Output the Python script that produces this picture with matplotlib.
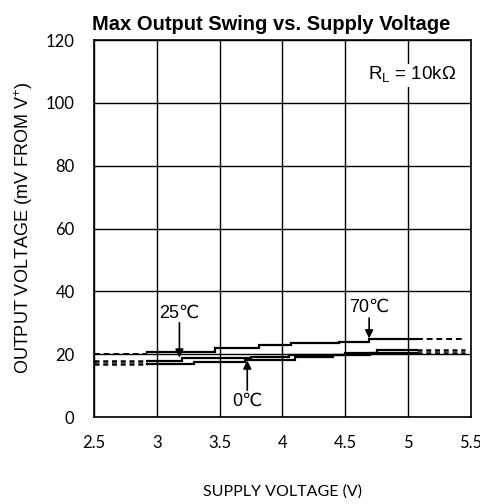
import matplotlib
matplotlib.use("Agg")
import matplotlib.pyplot as plt

# supply voltage breakpoints (V) and output swing (mV from V+) for each step
v_70 = [2.92, 3.46, 3.81, 4.07, 4.45, 4.69, 5.07]
mv_70 = [20.6, 22.0, 22.9, 23.4, 24.0, 24.7]
v_25 = [2.92, 3.20, 3.75, 4.05, 4.50, 4.75, 5.07]
mv_25 = [17.7, 18.7, 19.2, 19.8, 20.5, 21.2]
v_0 = [2.92, 3.30, 3.70, 4.10, 4.40, 4.70, 5.07]
mv_0 = [17.0, 17.6, 18.3, 19.0, 19.8, 20.3]

# dashed extensions outside the measured range
ext_left = [2.5, 2.92]
ext_right = [5.07, 5.45]
left_70, right_70 = 20.0, 24.7
left_25, right_25 = 17.7, 21.2
left_0, right_0 = 17.0, 20.3

xticks = [2.5, 3, 3.5, 4, 4.5, 5, 5.5]
yticks = [0, 20, 40, 60, 80, 100, 120]

sans = ['Liberation Sans', 'DejaVu Sans']
tickfont = ['Lato', 'DejaVu Sans']

fig = plt.figure(figsize=(4.81, 5.04), dpi=100)
ax = fig.add_axes([0.1954, 0.1726, 0.7836, 0.748])


def step(ax, v, mv):
    xs, ys = [], []
    for i, y in enumerate(mv):
        xs += [v[i], v[i + 1]]
        ys += [y, y]
    ax.plot(xs, ys, color='black', lw=1.6, solid_joinstyle='miter')


step(ax, v_70, mv_70)
step(ax, v_25, mv_25)
step(ax, v_0, mv_0)

ax.plot(ext_left, [left_70] * 2, color='black', lw=1.4, ls=(0, (3, 2)))
ax.plot(ext_left, [left_25] * 2, color='black', lw=1.8, ls=(0, (2, 1.5)))
ax.plot(ext_left, [left_0] * 2, color='black', lw=1.8, ls=(0, (2, 1.5)))
ax.plot(ext_right, [right_70] * 2, color='black', lw=1.4, ls=(0, (3, 2)))
ax.plot(ext_right, [right_25] * 2, color='black', lw=1.8, ls=(0, (2, 1.5)))
ax.plot(ext_right, [right_0] * 2, color='black', lw=1.8, ls=(0, (2, 1.5)))

ax.set_xlim(2.5, 5.5)
ax.set_ylim(0, 120)
ax.set_xticks(xticks)
ax.set_xticklabels([f"{t:g}" for t in xticks], family=tickfont, fontsize=12)
ax.set_yticks(yticks)
ax.set_yticklabels([str(t) for t in yticks], family=tickfont, fontsize=12)
ax.tick_params(axis='x', length=0, pad=13)
ax.tick_params(axis='y', length=0, pad=14)
ax.grid(True, color='black', lw=1.0)
for s in ax.spines.values():
    s.set_linewidth(1.2)

arrow = dict(arrowstyle='-|>', color='black', lw=1.2, mutation_scale=12,
             shrinkA=0, shrinkB=0)
ax.annotate('', xy=(3.18, 18.9), xytext=(3.18, 30), arrowprops=arrow)
ax.text(3.18, 33, '25℃', ha='center', va='center', family=sans, fontsize=13)
ax.annotate('', xy=(4.69, 25.0), xytext=(4.69, 31.5), arrowprops=arrow)
ax.text(4.69, 34.8, '70℃', ha='center', va='center', family=sans, fontsize=13)
ax.annotate('', xy=(3.72, 18.0), xytext=(3.72, 8.5), arrowprops=arrow)
ax.text(3.72, 5.0, '0℃', ha='center', va='center', family=sans, fontsize=13)

ax.text(5.03, 108.8, r'R$_\mathregular{L}$ = 10kΩ', ha='center', va='center',
        family=sans, fontsize=13.5,
        bbox=dict(facecolor='white', edgecolor='none', pad=1))

ax.set_title('Max Output Swing vs. Supply Voltage', family=sans,
             fontweight='bold', fontsize=14.5, pad=7, x=0.47)
ax.set_ylabel(r'OUTPUT VOLTAGE (mV FROM V$^\mathregular{+}$)', family=sans,
              fontsize=13, labelpad=8)
ax.set_xlabel('SUPPLY VOLTAGE (V)', family=tickfont, fontsize=11.5, labelpad=24)

fig.savefig('out.png', dpi=100)
